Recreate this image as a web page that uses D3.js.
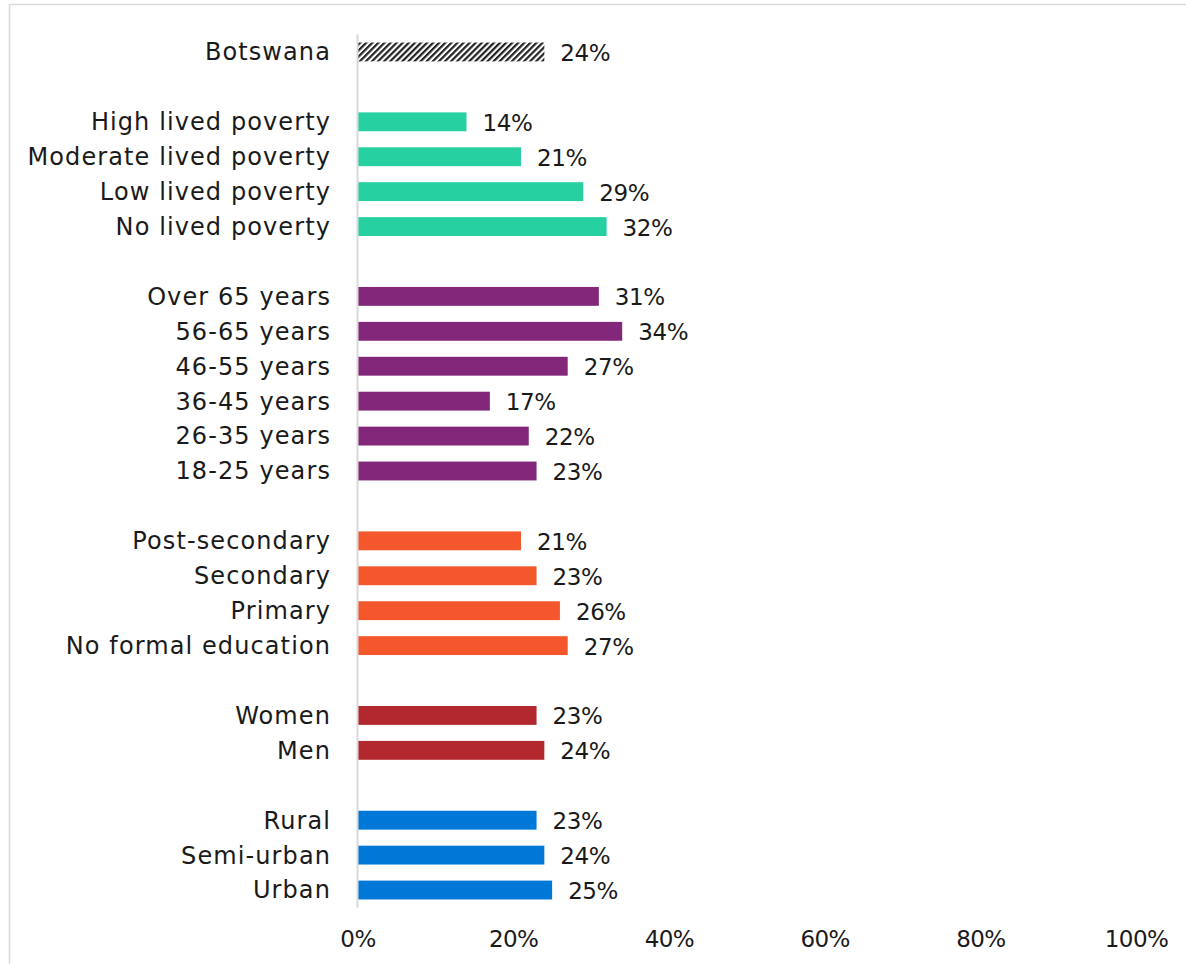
<!DOCTYPE html>
<html>
<head>
<meta charset="utf-8">
<script src="https://cdn.jsdelivr.net/npm/d3@7"></script>
<style>
  html, body { margin: 0; padding: 0; background: #fff; }
  svg { display: block; }
  text { font-family: "DejaVu Sans", sans-serif; fill: #1a1a1a; }
</style>
</head>
<body>
<svg id="chart" width="1186" height="964"></svg>
<script>
// Share of respondents, by group (%)
const overallLabel = ["Botswana"];
const overallValues = [24];

const povertyLabels = ["High lived poverty", "Moderate lived poverty", "Low lived poverty", "No lived poverty"];
const povertyValues = [14, 21, 29, 32];

const ageLabels = ["Over 65 years", "56-65 years", "46-55 years", "36-45 years", "26-35 years", "18-25 years"];
const ageValues = [31, 34, 27, 17, 22, 23];

const educationLabels = ["Post-secondary", "Secondary", "Primary", "No formal education"];
const educationValues = [21, 23, 26, 27];

const genderLabels = ["Women", "Men"];
const genderValues = [23, 24];

const locationLabels = ["Rural", "Semi-urban", "Urban"];
const locationValues = [23, 24, 25];

const tickValues = [0, 20, 40, 60, 80, 100];

const groups = [
  { labels: overallLabel, values: overallValues, fill: "url(#hatch)" },
  { labels: povertyLabels, values: povertyValues, fill: "#26D0A0" },
  { labels: ageLabels, values: ageValues, fill: "#83277A" },
  { labels: educationLabels, values: educationValues, fill: "#F4572B" },
  { labels: genderLabels, values: genderValues, fill: "#B3282F" },
  { labels: locationLabels, values: locationValues, fill: "#0078D7" }
];

// Flatten into rows, with an empty spacer row between groups
const rows = [];
groups.forEach((g, gi) => {
  if (gi > 0) rows.push({ key: "gap" + gi, label: "", value: null });
  g.labels.forEach((l, i) => rows.push({ key: l, label: l, value: g.values[i], fill: g.fill }));
});

const svg = d3.select("#chart");

// Frame around the chart area
svg.append("rect")
  .attr("x", 9.5).attr("y", 4.5)
  .attr("width", 1200).attr("height", 1000)
  .attr("fill", "none").attr("stroke", "#d9d9d9").attr("stroke-width", 1.5);

const defs = svg.append("defs");
const pat = defs.append("pattern")
  .attr("id", "hatch")
  .attr("patternUnits", "userSpaceOnUse")
  .attr("width", 4.3).attr("height", 4.3)
  .attr("patternTransform", "rotate(45)");
pat.append("rect").attr("width", 4.3).attr("height", 4.3).attr("fill", "#fff");
pat.append("rect").attr("width", 2.2).attr("height", 4.3).attr("fill", "#222");

const x = d3.scaleLinear().domain([0, 100]).range([357.5, 1136]);
const y = d3.scaleBand().domain(rows.map(r => r.key)).range([34.5, 907.5]).paddingInner(0.46).paddingOuter(0.23);

const bars = rows.filter(r => r.value !== null);

svg.append("g").selectAll("rect")
  .data(bars).join("rect")
  .attr("x", x(0))
  .attr("y", d => y(d.key))
  .attr("width", d => x(d.value) - x(0))
  .attr("height", y.bandwidth())
  .attr("fill", d => d.fill);

// Vertical axis line
svg.append("line")
  .attr("x1", x(0)).attr("x2", x(0))
  .attr("y1", 34.5).attr("y2", 907.5)
  .attr("stroke", "#d9d9d9").attr("stroke-width", 2);

// Category labels
svg.append("g").selectAll("text")
  .data(bars).join("text")
  .attr("x", 331)
  .attr("y", d => y(d.key) + y.bandwidth() / 2)
  .attr("dy", "0.35em")
  .attr("text-anchor", "end")
  .attr("font-size", 24)
  .attr("letter-spacing", 1.1)
  .text(d => d.label);

// Value labels
svg.append("g").selectAll("text")
  .data(bars).join("text")
  .attr("x", d => x(d.value) + 16)
  .attr("y", d => y(d.key) + y.bandwidth() / 2 + 1)
  .attr("dy", "0.35em")
  .attr("font-size", 23)
  .attr("letter-spacing", -0.4)
  .text(d => d.value + "%");

// Bottom axis tick labels
const axis = d3.axisBottom(x).tickValues(tickValues).tickFormat(d => d + "%").tickSize(0).tickPadding(0);
const ax = svg.append("g").attr("transform", "translate(0,931)").call(axis);
ax.select(".domain").remove();
ax.selectAll("text").attr("font-size", 23).attr("letter-spacing", -0.6).attr("font-family", "DejaVu Sans, sans-serif").attr("fill", "#1a1a1a").attr("dy", "0.71em");
</script>
</body>
</html>
